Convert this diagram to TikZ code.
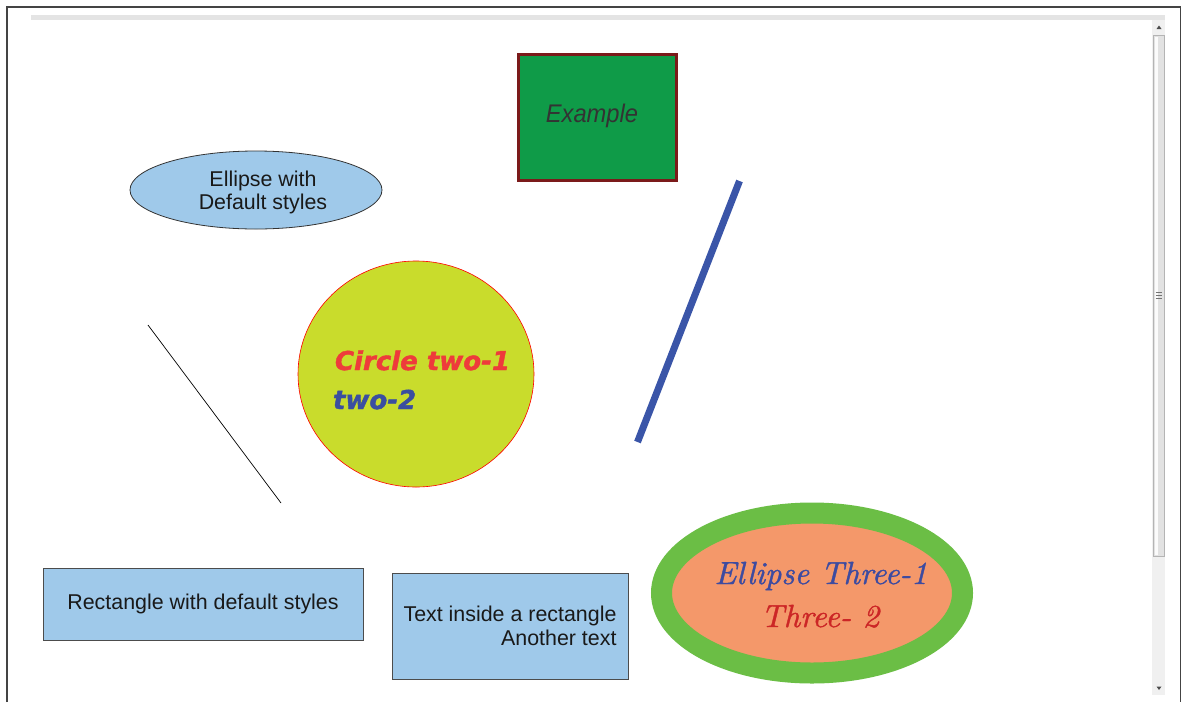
\documentclass[tikz,border=0pt]{standalone}
\usepackage{fontspec}
\newfontfamily\arialf{Liberation Sans}
\newfontfamily\heavyf[FakeBold=1.6]{DejaVu Sans}
\newfontfamily\scriptf[FakeBold=1.2]{lmroman10-italic.otf}
\usetikzlibrary{shapes.geometric}
\definecolor{frameGray}{HTML}{444444}
\definecolor{barGray}{HTML}{E4E4E4}
\definecolor{trackGray}{HTML}{F0F0F0}
\definecolor{thumbGray}{HTML}{E2E2E2}
\definecolor{thumbEdge}{HTML}{B4B4B4}
\definecolor{lightBlue}{HTML}{9FC9EA}
\definecolor{exGreen}{HTML}{0F9B48}
\definecolor{exRed}{HTML}{7B1A1A}
\definecolor{circFill}{HTML}{C9DC2C}
\definecolor{circRed}{HTML}{EE3B3B}
\definecolor{circBlue}{HTML}{3A4EA0}
\definecolor{ellGreen}{HTML}{6BBE45}
\definecolor{ellOrange}{HTML}{F4986A}
\definecolor{ellBlue}{HTML}{3D4BA0}
\definecolor{ellRed}{HTML}{CC2626}
\definecolor{lineBlue}{HTML}{3A55A8}
\tikzset{
  every node/.append style={outer sep=0pt},
  defbox/.style={rectangle, draw=black!70, line width=0.9pt, fill=lightBlue, inner sep=0pt,
    font=\arialf\fontsize{21.4}{24}\selectfont, text=black!90},
  defell/.style={ellipse, draw=black!80, line width=0.8pt, fill=lightBlue, inner sep=0pt},
  deftext/.style={font=\arialf\fontsize{21.4}{23}\selectfont, text=black!90, inner sep=0pt},
  heavytext/.style={font=\heavyf\bfseries\itshape\fontsize{26}{30}\selectfont, inner sep=0pt},
  scripttext/.style={font=\scriptf\fontsize{32}{36}\selectfont, inner sep=0pt},
}
\begin{document}
\begin{tikzpicture}[x=1pt,y=-1pt]
\useasboundingbox (0,0) rectangle (1183,702);
\fill[white] (0,0) rectangle (1183,702);
% window frame
\draw[frameGray, line width=1.6pt] (6.8,702) -- (6.8,6.8) -- (1180.3,6.8) -- (1180.3,702);
% top bar
\fill[barGray] (31,15) rectangle (1165,19.5);
% scrollbar
\fill[trackGray] (1152,20) rectangle (1165,695);
\fill[thumbGray, draw=thumbEdge, line width=0.8pt] (1153,35.5) rectangle (1164.5,556);
\fill[white!85!thumbGray] (1155,36.5) rectangle (1158,555);
\draw[black!55, line width=0.7pt] (1155.5,292) -- (1161.5,292) (1155.5,295) -- (1161.5,295) (1155.5,298) -- (1161.5,298);
\fill[black!70] (1156.5,29) -- (1161.5,29) -- (1159,25.5) -- cycle;
\fill[black!70] (1156.5,686.5) -- (1161.5,686.5) -- (1159,690) -- cycle;

% Example box
\node[rectangle, draw=exRed, line width=3pt, fill=exGreen, minimum width=158, minimum height=126,
  inner sep=0pt, anchor=north west] (ex) at (518.5,54.5) {};
\node[font=\arialf\itshape\fontsize{25.5}{28}\selectfont, text=black!80, inner sep=0pt, xscale=0.93] (extext) at (592,116) {Example};

% ellipse with default styles
\node[defell, minimum width=252, minimum height=78] (e1) at (256,190) {};
\node[deftext, align=center] (e1text) at (263,192) {Ellipse with\\Default styles};

% circle
\node[ellipse, draw=red, line width=0.6pt, fill=circFill, minimum width=236, minimum height=226, inner sep=0pt] (circ) at (416,374) {};
\node[heavytext, text=circRed, anchor=base west] (c1) at (335,370) {Circle two-1};
\node[heavytext, text=circBlue, anchor=base west] (c2) at (333,409) {two-2};

% lines
\coordinate (la) at (148,325);
\coordinate (lb) at (281,503);
\draw[black, line width=0.7pt] (la) -- (lb);
\coordinate (ba) at (739.5,181);
\coordinate (bb) at (637.5,442);
\draw[lineBlue, line width=7pt] (ba) -- (bb);

% rectangles
\node[defbox, minimum width=320, minimum height=72, anchor=north west] (r1) at (43,568) {Rectangle with default styles};
\node[defbox, minimum width=236, minimum height=106, anchor=north west, align=right] (r2) at (392,573) {Text inside a rectangle\\Another text};

% ellipse three
\node[ellipse, draw=ellGreen, line width=21pt, fill=ellOrange, minimum width=301, minimum height=160, inner sep=0pt] (e3) at (812,593) {};
\node[scripttext, text=ellBlue, anchor=base] (t1) at (821,584) {Ellipse Three-1};
\node[scripttext, text=ellRed, anchor=base] (t2) at (820,627) {Three- 2};
\end{tikzpicture}
\end{document}
